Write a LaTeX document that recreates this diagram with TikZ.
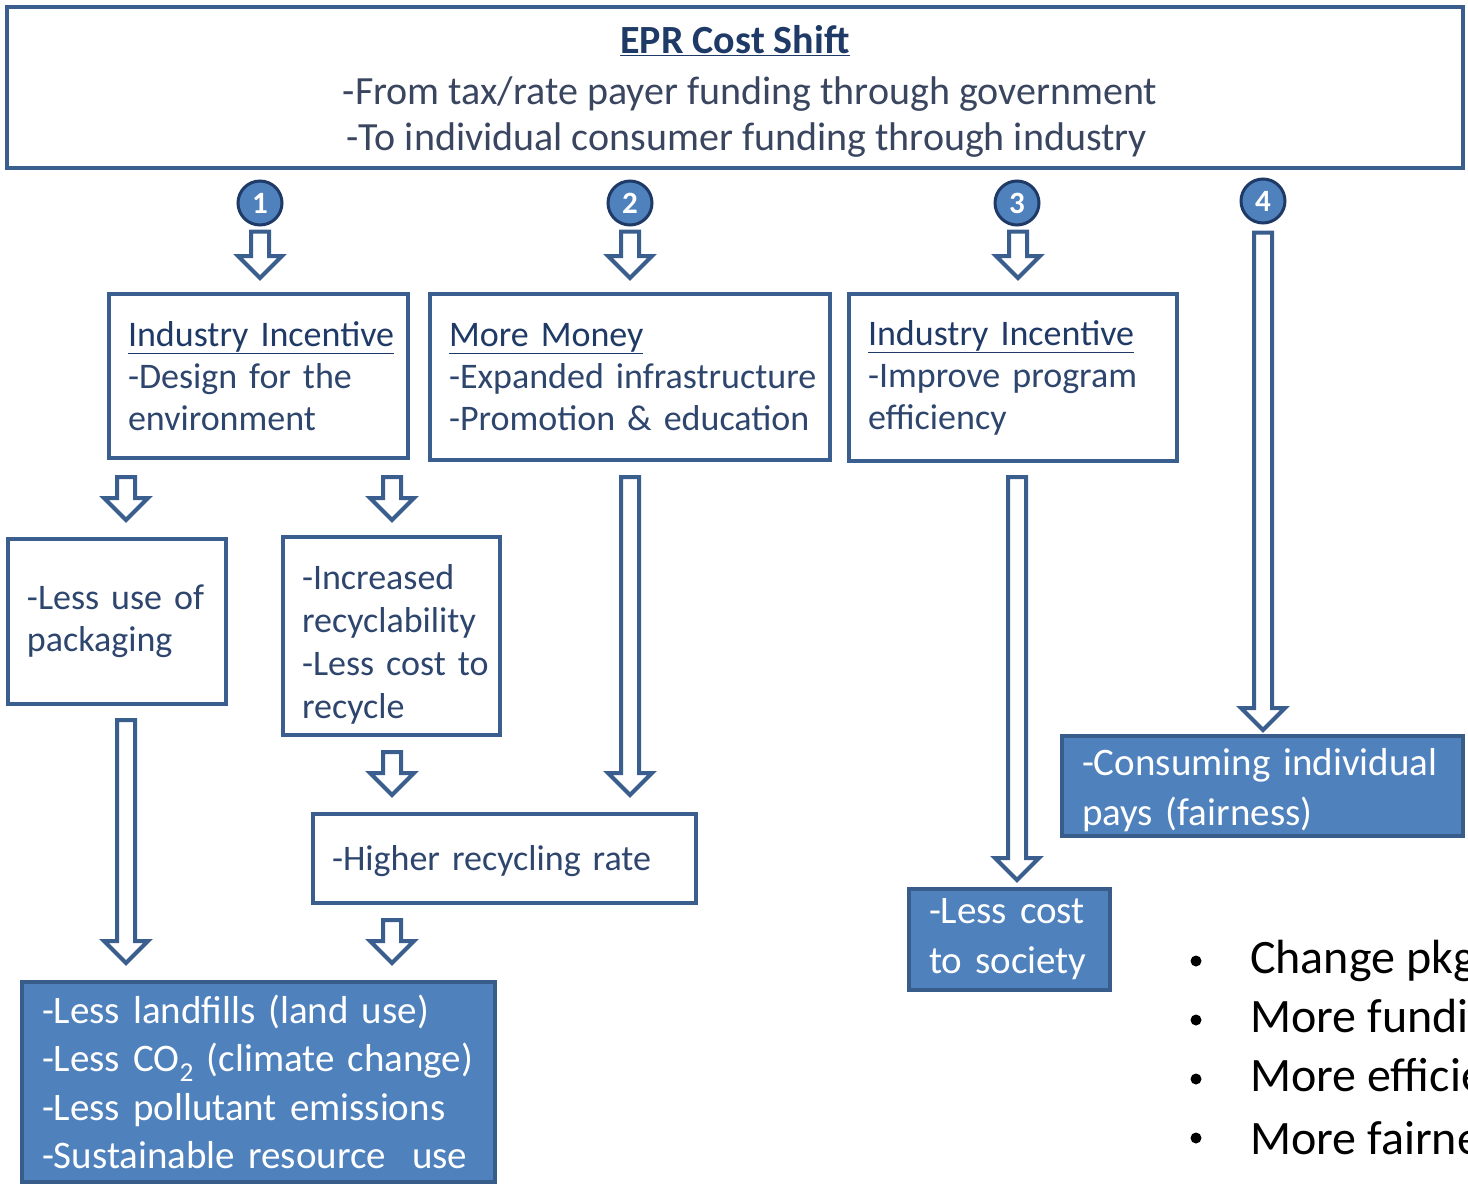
\documentclass[tikz,border=0pt]{standalone}
\usepackage{fontspec}
\setmainfont{Carlito}
\usetikzlibrary{calc}
\definecolor{bord}{HTML}{3A5F8F}
\definecolor{bluefill}{HTML}{4F81BD}
\definecolor{bluebord}{HTML}{385D8A}
\definecolor{headc}{HTML}{1F3A66}
\definecolor{bodyc}{HTML}{2E466E}
\definecolor{topc}{HTML}{3A4660}
\newcommand\nobreaks{\hyphenpenalty=10000 \exhyphenpenalty=10000 \hfuzz=100pt}
\tikzset{
 wbox/.style={draw=bord, line width=4pt, fill=white, align=left, text=bodyc, inner xsep=19pt, inner ysep=0pt, font=\fontsize{36pt}{42pt}\selectfont, execute at begin node=\nobreaks},
 bbox/.style={draw=bluebord, line width=4pt, fill=bluefill, align=left, text=white, inner xsep=20pt, inner ysep=0pt, font=\fontsize{39pt}{50pt}\selectfont, execute at begin node=\nobreaks},
 numc/.style={circle, fill=bluefill, draw=headc, line width=3pt, minimum size=44pt, inner sep=0pt, text=white, font=\bfseries\fontsize{31pt}{31pt}\selectfont},
 hollow/.style={draw=bord, line width=4pt, fill=white, line join=miter},
 bul/.style={anchor=west, font=\fontsize{48pt}{58pt}\selectfont, inner sep=0pt, text=black},
 dot/.style={circle, fill=black, inner sep=0pt, minimum size=11pt},
}
\newcommand\hd[1]{\textcolor{headc}{\underline{#1}}}
% hollow arrow: #1 x, #2 from anchor, #3 to anchor, #4 top gap, #5 bottom gap
\newcommand\harrow[5]{%
 \draw[hollow] let \p0=(#1,0), \p1=(#2), \p2=(#3) in
 (\x0-9pt,\y1-#4pt) -- (\x0+9pt,\y1-#4pt) -- (\x0+9pt,\y2+#5pt+22pt) --
 (\x0+22pt,\y2+#5pt+22pt) -- (\x0,\y2+#5pt) -- (\x0-22pt,\y2+#5pt+22pt) --
 (\x0-9pt,\y2+#5pt+22pt) -- cycle;}
\begin{document}
\begin{tikzpicture}[x=1pt,y=-1pt]
\path[use as bounding box] (0,0) rectangle (1468,1186);
\clip (0,0) rectangle (1468,1186);

\node[wbox, minimum width=1456pt, minimum height=161pt] (top) at (735,87.5) {};
\node[align=center, text=topc, font=\fontsize{40pt}{46pt}\selectfont, inner sep=0pt] (toptext) at (735,91)
  {\textbf{\hd{EPR Cost Shift}}\\[5pt]
   \hspace*{30pt}-From tax/rate payer funding through government\\
   \hspace*{24pt}-To individual consumer funding through industry};

\node[numc] (n1) at (260,203) {1};
\node[numc] (n2) at (630,203) {2};
\node[numc] (n3) at (1017,203) {3};
\node[numc] (n4) at (1263,201) {4};

\node[wbox, text width=261pt, minimum width=299pt, minimum height=164pt] (A) at (258.5,376)
  {\hd{Industry~Incentive}\\-Design~for~the\\environment};
\node[wbox, text width=362pt, minimum width=400pt, minimum height=166pt] (B) at (630,377)
  {\hd{More~Money}\\-Expanded~infrastructure\\-Promotion~\&~education};
\node[wbox, text width=290pt, minimum width=328pt, minimum height=167pt] (C) at (1013,377.5)
  {\hd{Industry~Incentive}\\-Improve~program\\efficiency};
\node[wbox, text width=180pt, minimum width=218pt, minimum height=165pt] (D) at (117,621.5)
  {-Less~use~of\\packaging};
\node[wbox, text width=179pt, minimum width=217pt, minimum height=198pt,
  font=\fontsize{36pt}{43pt}\selectfont] (E) at (391.5,636)
  {\rule{0pt}{41pt}-Increased\\recyclability\\-Less~cost~to\\recycle};
\node[wbox, text width=345pt, minimum width=383pt, minimum height=89pt] (F) at (504.5,858.5)
  {\rule{0pt}{30pt}-Higher~recycling~rate};

\node[bbox, text width=433pt, minimum width=473pt, minimum height=200pt, font=\fontsize{39pt}{48.5pt}\selectfont] (G) at (258.5,1082)
  {-Less~landfills~(land~use)\\-Less~CO\textsubscript{2}~(climate~change)\\-Less~pollutant~emissions\\-Sustainable~resource~~use};
\node[bbox, text width=161pt, minimum width=201pt, minimum height=101pt] (H) at (1009.5,939.5)
  {-Less~cost\\to~society};
\node[bbox, text width=361pt, minimum width=401pt, minimum height=100pt] (I) at (1262.5,786)
  {\rule{0pt}{36pt}-Consuming~individual\\pays~(fairness)};

\harrow{260}{n1.south}{A.north}{5}{14}
\harrow{630}{n2.south}{B.north}{5}{14}
\harrow{1018}{n3.south}{C.north}{5}{14}
\harrow{1263}{n4.south}{I.north}{8}{4}
\harrow{126}{A.south}{D.north}{17}{17}
\harrow{392}{A.south}{E.north}{17}{15}
\harrow{630}{B.south}{F.north}{15}{17}
\harrow{1017}{C.south}{H.north}{14}{7}
\harrow{126}{D.south}{G.north}{14}{17}
\harrow{392}{E.south}{F.north}{15}{17}
\harrow{392}{F.south}{G.north}{15}{17}

\node[dot] (d1) at (1196,961) {};
\node[dot] (d2) at (1196,1020) {};
\node[dot] (d3) at (1196,1079) {};
\node[dot] (d4) at (1196,1138) {};
\node[bul] (t1) at (1250,961) {Change pkg};
\node[bul] (t2) at (1250,1020) {More funding};
\node[bul] (t3) at (1250,1079) {More efficiency};
\node[bul] (t4) at (1250,1138) {More fairness};
\end{tikzpicture}
\end{document}
